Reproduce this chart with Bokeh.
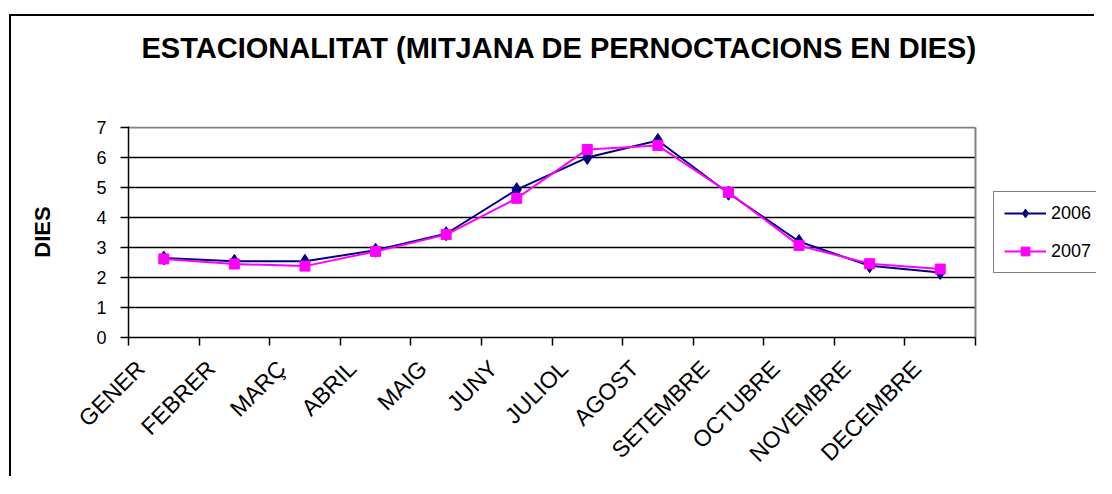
import numpy as np
from bokeh.plotting import figure
from bokeh.layouts import column
from bokeh.models import Range1d, FixedTicker, Legend, LegendItem, Title, Grid
from bokeh.embed import file_html
from bokeh.resources import INLINE

months = ["GENER", "FEBRER", "MARÇ", "ABRIL", "MAIG", "JUNY", "JULIOL",
          "AGOST", "SETEMBRE", "OCTUBRE", "NOVEMBRE", "DECEMBRE"]
vals_2006 = [2.65, 2.54, 2.54, 2.91, 3.46, 4.93, 6.00, 6.57, 4.81, 3.20, 2.39, 2.17]
vals_2007 = [2.62, 2.45, 2.38, 2.87, 3.43, 4.64, 6.27, 6.40, 4.84, 3.07, 2.46, 2.28]
y_ticks = [0, 1, 2, 3, 4, 5, 6, 7]
title_text = "ESTACIONALITAT (MITJANA DE PERNOCTACIONS EN DIES)"

FONT = "Liberation Sans"
LABEL_SHIFT = 0.33      # style: rotated month labels sit a bit left of the category centre
PLOT_W = 847            # px width of the plotted area (12 months)
FRAME_W = 968           # px width of the frame (plot area + room for the legend)
Y_PAD = 0.035           # keeps the grey top border inside the frame

n = len(months)
xs = np.arange(n) + 0.5
label_pos = xs - LABEL_SHIFT
x_end = n * FRAME_W / PLOT_W

p = figure(width=1085, height=462, output_backend="svg", toolbar_location=None,
           x_range=Range1d(0, x_end), y_range=Range1d(0, y_ticks[-1] + Y_PAD),
           min_border_left=117, min_border_right=0, min_border_top=110,
           min_border_bottom=140)
p.margin = (14, 0, 0, 9)
p.styles = {"border-left": "2px solid black", "border-top": "2px solid black"}

# spacer (nearest the frame) then the title
p.title.text = ""
p.add_layout(Title(text=".", text_color="white", text_font_size="10px", standoff=53), "above")
p.add_layout(Title(text=title_text, text_font=FONT, text_font_size="29px",
                   text_font_style="bold", text_color="black", align="left",
                   offset=13, standoff=0), "above")

p.outline_line_color = None

# x axis
p.xaxis.bounds = (0, n)
p.xaxis.ticker = FixedTicker(ticks=list(label_pos), minor_ticks=list(range(n + 1)))
p.xaxis.major_label_overrides = {float(x): m for x, m in zip(label_pos, months)}
p.xaxis.major_label_orientation = np.pi / 4
p.xaxis.major_tick_out = 0
p.xaxis.major_tick_in = 0
p.xaxis.minor_tick_out = 8
p.xaxis.minor_tick_in = 0
p.xaxis.minor_tick_line_color = "black"
p.xaxis.minor_tick_line_width = 1.5
p.xaxis.axis_line_color = "black"
p.xaxis.axis_line_width = 1.5
p.xaxis.major_label_text_font = FONT
p.xaxis.major_label_text_font_size = "23px"
p.xaxis.major_label_text_color = "black"
p.xaxis.major_label_standoff = 19

# y axis
p.yaxis.ticker = FixedTicker(ticks=y_ticks)
p.yaxis.major_tick_out = 8
p.yaxis.major_tick_in = 0
p.yaxis.minor_tick_line_color = None
p.yaxis.major_tick_line_color = "black"
p.yaxis.major_tick_line_width = 1.5
p.yaxis.axis_line_color = "black"
p.yaxis.axis_line_width = 1.5
p.yaxis.major_label_text_font = FONT
p.yaxis.major_label_text_font_size = "18px"
p.yaxis.major_label_text_color = "black"
p.yaxis.major_label_standoff = 14
p.yaxis.axis_label = "DIES"
p.yaxis.axis_label_text_font = FONT
p.yaxis.axis_label_text_font_size = "22px"
p.yaxis.axis_label_text_font_style = "bold"
p.yaxis.axis_label_text_color = "black"
p.yaxis.axis_label_standoff = 38

# grid lines only across the plotted months
p.xgrid.grid_line_color = None
p.ygrid.ticker = FixedTicker(ticks=y_ticks[1:-1])
p.ygrid.cross_bounds = (0, n)
p.ygrid.grid_line_color = "black"
p.ygrid.grid_line_width = 1.5
# grey plot-area border at top and right
p.add_layout(Grid(dimension=1, ticker=FixedTicker(ticks=[y_ticks[-1]]), cross_bounds=(0, n),
                  grid_line_color="#808080", grid_line_width=2))
p.add_layout(Grid(dimension=0, ticker=FixedTicker(ticks=[n]), cross_bounds=(0, y_ticks[-1]),
                  grid_line_color="#808080", grid_line_width=2))

l6 = p.line(xs, vals_2006, line_color="#000080", line_width=2)
s6 = p.scatter(xs, vals_2006, marker="diamond", size=14, fill_color="#000080",
               line_color="#000080")
l7 = p.line(xs, vals_2007, line_color="#FF00FF", line_width=2)
s7 = p.scatter(xs, vals_2007, marker="square", size=10, fill_color="#FF00FF",
               line_color="#FF00FF")

legend = Legend(items=[LegendItem(label="2006", renderers=[l6, s6]),
                       LegendItem(label="2007", renderers=[l7, s7])],
                location=(865, 64), orientation="vertical",
                glyph_width=42, glyph_height=22, label_height=22,
                label_standoff=5, spacing=16, padding=10, margin=0,
                label_text_font=FONT, label_text_font_size="18px",
                label_text_color="black",
                border_line_color="black", border_line_width=1.5,
                background_fill_color="white", background_fill_alpha=1)
p.add_layout(legend)

root = column(p)
open("out.html", "w").write(file_html(root, INLINE))
